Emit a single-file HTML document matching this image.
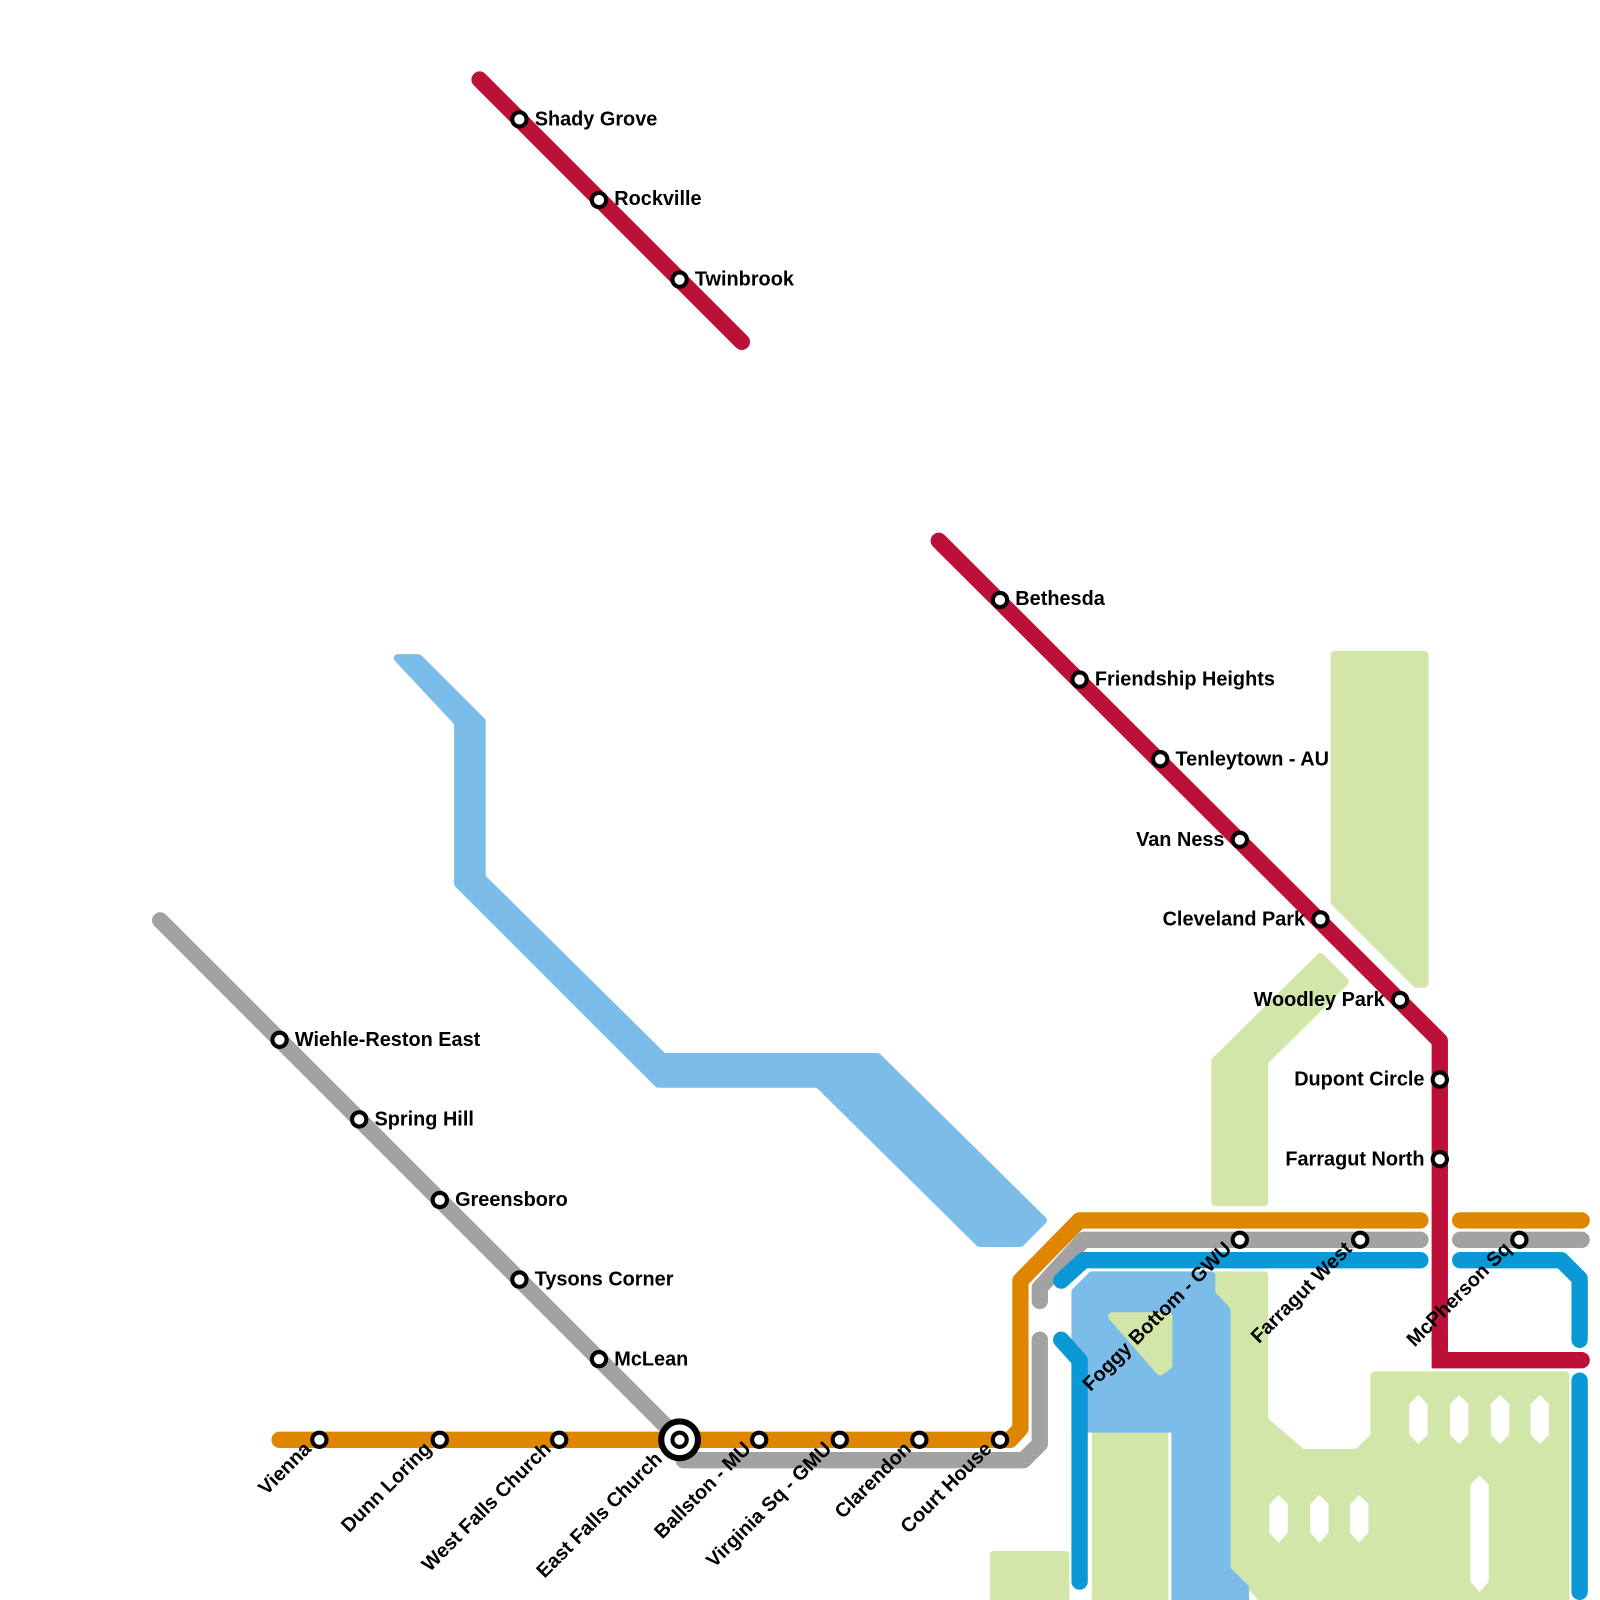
<!DOCTYPE html>
<html><head><meta charset="utf-8"><style>
html,body{margin:0;padding:0;background:#fff;}
svg{display:block;}
text{font-family:"Liberation Sans",Arial,sans-serif;font-weight:bold;font-size:19.5px;fill:#000;}
</style></head><body>
<svg width="1600" height="1600" viewBox="0 0 1568 1568" xmlns="http://www.w3.org/2000/svg">
<g fill="#d1e6a8" stroke="#d1e6a8" stroke-width="8" stroke-linejoin="round">
<polygon points="1308,642 1396,642 1396,964 1388,964 1308,884"/>
<polygon points="1191,1040 1294,938 1318,962 1239,1040 1239,1178 1191,1178"/>
<polygon points="1191,1250 1239,1250 1239,1392 1276,1424 1330,1424 1347,1408 1347,1348 1534,1348 1534,1582 1252,1582 1210,1538 1210,1282 1191,1264"/>
<rect x="974" y="1524" width="70" height="58"/>
<rect x="1074" y="1406" width="67" height="176"/>
</g>
<g fill="#7bbde8" stroke="#7bbde8" stroke-width="8" stroke-linejoin="round">
<polygon points="390,645 410,645 472,707 472,860 650,1036 860,1036 1022,1196 1000,1218 960,1218 802,1062 645,1062 449,866 449,708"/>
<polygon points="1054,1266 1070,1250 1187,1250 1187,1268 1202,1284 1202,1538 1220,1556 1220,1582 1152,1582 1152,1400 1054,1400"/>
</g>
<polygon points="1090,1290 1145,1290 1145,1338 1137,1344" fill="#d1e6a8" stroke="#d1e6a8" stroke-width="8" stroke-linejoin="round"/>
<g fill="#fff">
<polygon points="1390,1367 1399,1376 1399,1406 1390,1415 1381,1406 1381,1376"/>
<polygon points="1430,1367 1439,1376 1439,1406 1430,1415 1421,1406 1421,1376"/>
<polygon points="1470,1367 1479,1376 1479,1406 1470,1415 1461,1406 1461,1376"/>
<polygon points="1509,1367 1518,1376 1518,1406 1509,1415 1500,1406 1500,1376"/>
<polygon points="1253,1465 1262,1474 1262,1502 1253,1512 1244,1502 1244,1474"/>
<polygon points="1293,1465 1302,1474 1302,1502 1293,1512 1284,1502 1284,1474"/>
<polygon points="1332,1465 1341,1474 1341,1502 1332,1512 1323,1502 1323,1474"/>
<polygon points="1450,1446 1459,1455 1459,1550 1450,1560 1441,1550 1441,1455"/>
</g>
<g fill="none" stroke-width="16" stroke-linecap="round" stroke-linejoin="round">
<polyline stroke="#a2a2a2" points="157,902 666,1411 670,1431 1003,1431 1019,1415 1019,1313"/>
<polyline stroke="#a2a2a2" points="1019,1275 1019,1262 1062,1215 1392,1215"/>
<line stroke="#a2a2a2" x1="1431" y1="1215" x2="1550" y2="1215"/>
<polyline stroke="#de8600" points="274,1411 990,1411 1000,1400 1000,1255 1058,1196 1392,1196"/>
<line stroke="#de8600" x1="1431" y1="1196" x2="1550" y2="1196"/>
<polyline stroke="#0a98d6" points="1040,1255 1062,1235 1392,1235"/>
<polyline stroke="#0a98d6" points="1431,1235 1530,1235 1548,1253 1548,1313"/>
<polyline stroke="#0a98d6" points="1040,1313 1058,1333 1058,1550"/>
<line stroke="#0a98d6" x1="1548" y1="1353" x2="1548" y2="1560"/>
<line stroke="#bd1038" x1="470" y1="78" x2="727" y2="335"/>
<polyline stroke="#bd1038" points="920,530 1411,1020 1411,1320"/>
<polyline stroke="#bd1038" stroke-linejoin="miter" points="1411,1310 1411,1333 1550,1333"/>
</g>
<g fill="#fff" stroke="#000" stroke-width="4">
<circle cx="509" cy="117" r="7"/><circle cx="587" cy="196" r="7"/><circle cx="666" cy="274" r="7"/>
<circle cx="980" cy="588" r="7"/><circle cx="1058" cy="666" r="7"/><circle cx="1137" cy="744" r="7"/>
<circle cx="1215" cy="823" r="7"/><circle cx="1294" cy="901" r="7"/><circle cx="1372" cy="980" r="7"/>
<circle cx="1411" cy="1058" r="7"/><circle cx="1411" cy="1136" r="7"/>
<circle cx="274" cy="1019" r="7"/><circle cx="352" cy="1097" r="7"/><circle cx="431" cy="1176" r="7"/>
<circle cx="509" cy="1254" r="7"/><circle cx="587" cy="1332" r="7"/>
<circle cx="313" cy="1411" r="7"/><circle cx="431" cy="1411" r="7"/><circle cx="548" cy="1411" r="7"/>
<circle cx="744" cy="1411" r="7"/><circle cx="823" cy="1411" r="7"/><circle cx="901" cy="1411" r="7"/><circle cx="980" cy="1411" r="7"/>
<circle cx="1215" cy="1215" r="7"/><circle cx="1333" cy="1215" r="7"/><circle cx="1489" cy="1215" r="7"/>
<circle cx="666" cy="1411" r="18" stroke-width="6"/><circle cx="666" cy="1411" r="7"/>
</g>
<text x="524" y="123">Shady Grove</text>
<text x="602" y="201">Rockville</text>
<text x="681" y="280">Twinbrook</text>
<text x="995" y="593">Bethesda</text>
<text x="1073" y="672">Friendship Heights</text>
<text x="1152" y="750">Tenleytown - AU</text>
<text x="1200" y="829" text-anchor="end">Van Ness</text>
<text x="1279" y="907" text-anchor="end">Cleveland Park</text>
<text x="1357" y="986" text-anchor="end">Woodley Park</text>
<text x="1396" y="1064" text-anchor="end">Dupont Circle</text>
<text x="1396" y="1142" text-anchor="end">Farragut North</text>
<text x="289" y="1025">Wiehle-Reston East</text>
<text x="367" y="1103">Spring Hill</text>
<text x="446" y="1182">Greensboro</text>
<text x="524" y="1260">Tysons Corner</text>
<text x="602" y="1338">McLean</text>
<g text-anchor="end">
<text transform="translate(306,1421) rotate(-45)">Vienna</text>
<text transform="translate(424,1421) rotate(-45)">Dunn Loring</text>
<text transform="translate(541,1421) rotate(-45)">West Falls Church</text>
<text transform="translate(650,1431) rotate(-45)">East Falls Church</text>
<text transform="translate(737,1421) rotate(-45)">Ballston - MU</text>
<text transform="translate(816,1421) rotate(-45)">Virginia Sq - GMU</text>
<text transform="translate(894,1421) rotate(-45)">Clarendon</text>
<text transform="translate(973,1421) rotate(-45)">Court House</text>
<text transform="translate(1208,1225) rotate(-45)">Foggy Bottom - GWU</text>
<text transform="translate(1326,1225) rotate(-45)">Farragut West</text>
<text transform="translate(1482,1225) rotate(-45)">McPherson Sq</text>
</g>
</svg>
</body></html>
